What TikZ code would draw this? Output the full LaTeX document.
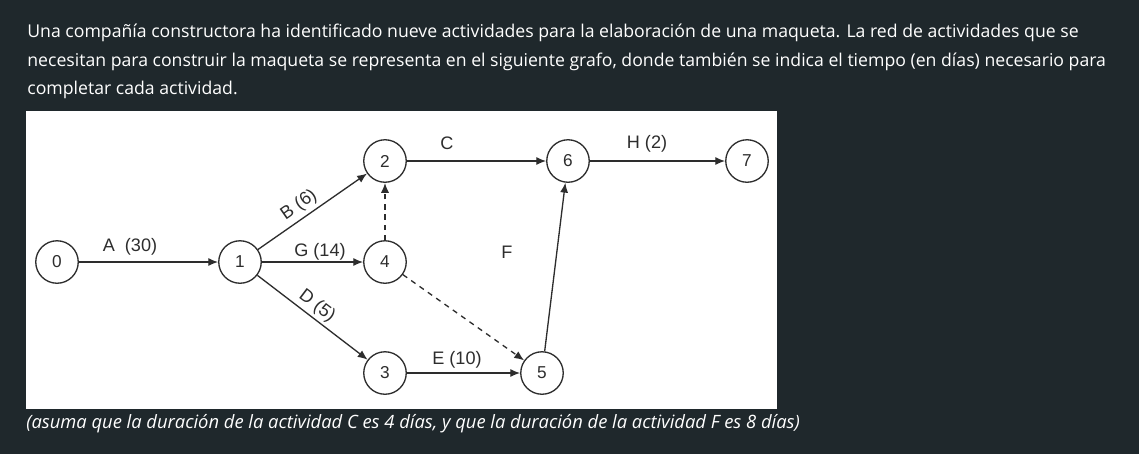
\documentclass[tikz,border=0pt]{standalone}
\usepackage{fontspec}
\setmainfont{Open Sans}
\newfontfamily\diagfont{Liberation Sans}
\usepackage{xcolor}
\usepackage{tikz}
\usetikzlibrary{arrows.meta}
\usetikzlibrary{backgrounds,positioning}
\pgfdeclarelayer{edgelayer}
\pgfdeclarelayer{nodelayer}
\pgfsetlayers{background,edgelayer,nodelayer,main}
\definecolor{pagebg}{RGB}{31,40,44}
\definecolor{inkgrey}{RGB}{45,45,45}
\tikzstyle{none}=[inner sep=0mm]
\tikzstyle{para}=[inner sep=0mm,anchor=base west,text=white,font=\fontsize{10.05}{12}\selectfont]
\tikzstyle{vertex}=[shape=circle,draw=inkgrey,line width=0.75pt,fill=white,minimum size=0.85cm,inner sep=0pt,font=\diagfont\fontsize{9.8}{11}\selectfont,text=inkgrey]
\tikzstyle{act}=[inner sep=0mm,font=\diagfont\fontsize{10.3}{12}\selectfont,text=inkgrey]
\tikzstyle{diredge}=[-{Latex[length=5.6pt,width=4.6pt]},draw=inkgrey,line width=0.75pt]
\tikzstyle{dummy}=[diredge,dash pattern=on 3pt off 2.8pt]
\begin{document}
\begin{tikzpicture}[x=0.02cm,y=-0.02cm]
	\begin{pgfonlayer}{background}
		\fill [pagebg] (0, 0) rectangle (1139, 454);
		\fill [white] (26, 111) rectangle (777, 409);
	\end{pgfonlayer}
	\begin{pgfonlayer}{nodelayer}
		\node [style=para] (l1) at (27, 37.3) {Una compañía constructora ha identificado nueve actividades para la elaboración de una maqueta. La red de actividades que se};
		\node [style=para] (l2) at (27, 66) {necesitan para construir la maqueta se representa en el siguiente grafo, donde también se indica el tiempo (en días) necesario para};
		\node [style=para] (l3) at (27, 94.7) {completar cada actividad.};
		\node [style=para, font=\fontsize{10.45}{12}\selectfont\itshape] (note) at (26, 428) {(asuma que la duración de la actividad C es 4 días, y que la duración de la actividad F es 8 días)};
		\node [style=vertex] (n0) at (57, 262) {0};
		\node [style=vertex] (n1) at (240, 262) {1};
		\node [style=vertex] (n2) at (385, 161) {2};
		\node [style=vertex] (n4) at (385, 262) {4};
		\node [style=vertex] (n3) at (385, 373) {3};
		\node [style=vertex] (n6) at (568, 161) {6};
		\node [style=vertex] (n7) at (747, 161) {7};
		\node [style=vertex] (n5) at (542, 373) {5};
		\node [style=act] (a) at (130, 247) {A\ \ (30)};
		\node [style=act, rotate=35] (b) at (299, 205) {B (6)};
		\node [style=act] (g) at (320, 252) {G (14)};
		\node [style=act, rotate=-37] (d) at (317, 306) {D (5)};
		\node [style=act] (c) at (447, 143) {C};
		\node [style=act] (h) at (647, 144) {H (2)};
		\node [style=act] (f) at (507, 252) {F};
		\node [style=act] (e) at (457, 360) {E (10)};
	\end{pgfonlayer}
	\begin{pgfonlayer}{edgelayer}
		\draw [style=diredge] (n0) to (n1);
		\draw [style=diredge] (n1) to (n2);
		\draw [style=diredge] (n1) to (n4);
		\draw [style=diredge] (n1) to (n3);
		\draw [style=diredge] (n2) to (n6);
		\draw [style=diredge] (n6) to (n7);
		\draw [style=diredge] (n3) to (n5);
		\draw [style=diredge] (n5) to (n6);
		\draw [style=dummy] (n4) to (n2);
		\draw [style=dummy] (n4) to (n5);
	\end{pgfonlayer}
\end{tikzpicture}
\end{document}
